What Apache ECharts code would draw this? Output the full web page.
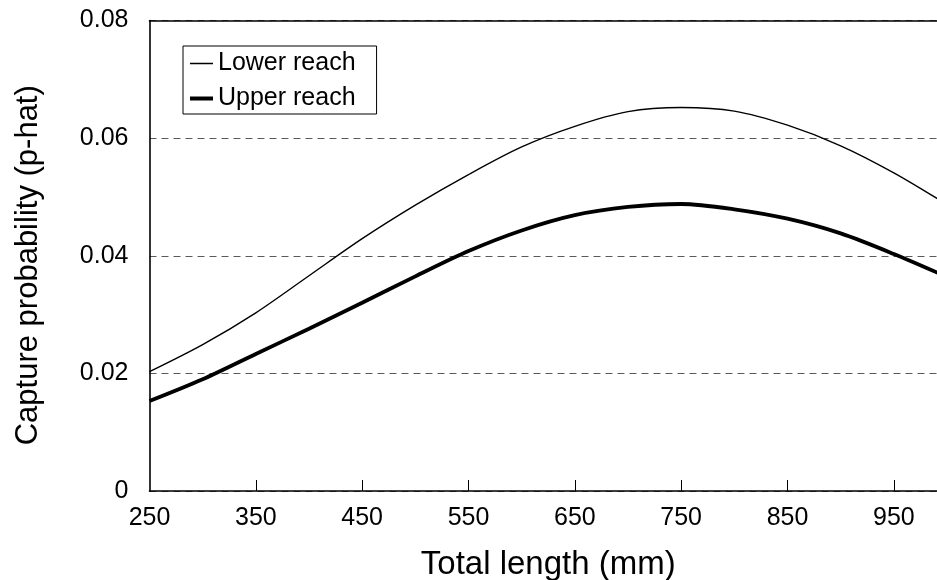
<!DOCTYPE html>
<html>
<head>
<meta charset="utf-8">
<script src="https://cdn.jsdelivr.net/npm/echarts@6/dist/echarts.min.js"></script>
<style>
  html, body { margin: 0; padding: 0; background: #fff; }
  #chart { width: 937px; height: 580px; }
</style>
</head>
<body>
<div id="chart"></div>
<script>
// total length (mm)
let lengthMm = [250, 300, 350, 400, 450, 500, 550, 600, 650, 700, 750, 800, 850, 900, 950, 1000];
// p-hat
let lowerReach = [0.0203, 0.0249, 0.0303, 0.0366, 0.0429, 0.0486, 0.0538, 0.0585, 0.0620, 0.0645, 0.0652, 0.0646, 0.0622, 0.0587, 0.0541, 0.0487];
let upperReach = [0.0153, 0.0190, 0.0233, 0.0276, 0.0320, 0.0365, 0.0408, 0.0443, 0.0469, 0.0483, 0.0488, 0.0479, 0.0463, 0.0438, 0.0403, 0.0364];
let xLabels = [250, 350, 450, 550, 650, 750, 850, 950];
let xTicks = [350, 450, 550, 650, 750, 850, 950];

let fontName = 'Liberation Sans';

function toPairs(ys) {
    return lengthMm.map(function (x, i) { return [x, ys[i]]; });
}

// legend sample line: corner specks keep the 23x14 box, bar in the middle
function lineIcon(w) {
    let y0 = 7 - w / 2, y1 = 7 + w / 2;
    return 'path://M0,0L0.01,0L0.01,0.01Z M23,14L22.99,14L22.99,13.99Z M0,' + y0 + 'L23,' + y0 + 'L23,' + y1 + 'L0,' + y1 + 'Z';
}

let myChart = echarts.init(document.getElementById('chart'));

let option = {
    animation: false,
    textStyle: { fontFamily: fontName },
    grid: {
        left: 149.5,
        right: -10,
        top: 20.5,
        bottom: 89,
        outerBoundsMode: 'none'
    },
    legend: {
        left: 183,
        top: 46,
        orient: 'vertical',
        itemWidth: 23,
        itemHeight: 14,
        itemGap: 10,
        padding: [5, 21, 3, 7],
        borderColor: '#000',
        borderWidth: 1,
        backgroundColor: '#fff',
        textStyle: { fontSize: 25, color: '#000', fontFamily: fontName },
        data: [
            { name: 'Lower reach', icon: lineIcon(1.4), itemStyle: { color: '#000' } },
            { name: 'Upper reach', icon: lineIcon(4), itemStyle: { color: '#000' } }
        ]
    },
    xAxis: [{
        type: 'value',
        min: 250,
        max: 1000,
        name: 'Total length (mm)',
        nameLocation: 'middle',
        nameGap: 57,
        nameTextStyle: { fontSize: 33, color: '#000', fontFamily: fontName },
        axisLine: { lineStyle: { color: '#000', width: 1.6 } },
        axisTick: {
            inside: true,
            length: 11,
            customValues: xTicks,
            lineStyle: { color: '#000', width: 1 }
        },
        axisLabel: {
            customValues: xLabels,
            fontSize: 25,
            color: '#000',
            margin: 15
        },
        splitLine: { show: false }
    }, {
        type: 'value',
        position: 'top',
        min: 250,
        max: 1000,
        axisLine: { show: true, lineStyle: { color: '#000', width: 1.6 } },
        axisTick: { show: false },
        axisLabel: { show: false },
        splitLine: { show: false }
    }],
    yAxis: {
        type: 'value',
        min: 0,
        max: 0.08,
        interval: 0.02,
        name: 'Capture probability (p-hat)',
        nameLocation: 'middle',
        nameGap: 106,
        nameTextStyle: { fontSize: 31, color: '#000', fontFamily: fontName, padding: [0, 19, 0, 0] },
        axisLine: { show: true, lineStyle: { color: '#000', width: 1.6 } },
        axisTick: { show: false },
        axisLabel: {
            fontSize: 25,
            color: '#000',
            margin: 21,
            formatter: function (v) { return v === 0 ? '0' : v.toFixed(2); }
        },
        splitLine: {
            show: true,
            lineStyle: { color: '#5a5a5a', width: 1, type: [7, 5] }
        }
    },
    series: [{
        name: 'Lower reach',
        type: 'line',
        data: toPairs(lowerReach),
        smooth: 0.3,
        symbol: 'none',
        color: '#000',
        lineStyle: { color: '#000', width: 1.4 }
    }, {
        name: 'Upper reach',
        type: 'line',
        data: toPairs(upperReach),
        smooth: 0.3,
        symbol: 'none',
        color: '#000',
        lineStyle: { color: '#000', width: 3.8 }
    }]
};

myChart.setOption(option);
</script>
</body>
</html>
